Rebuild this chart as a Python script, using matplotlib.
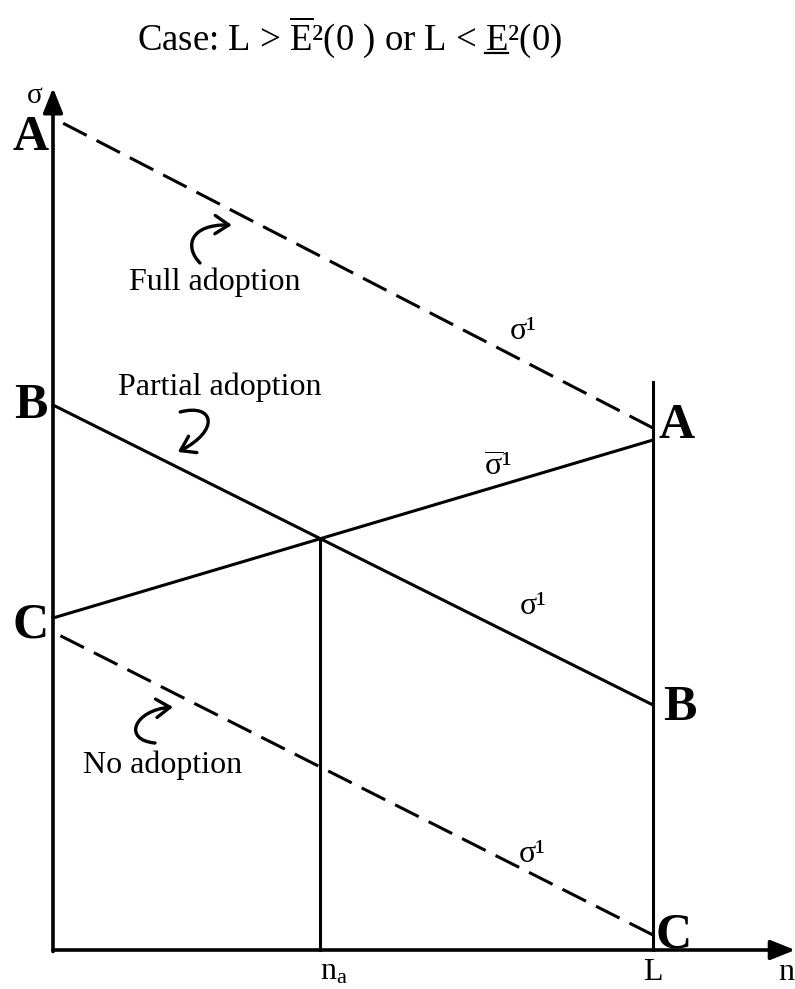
import matplotlib
matplotlib.use('Agg')
import matplotlib.pyplot as plt
from matplotlib.path import Path
from matplotlib.patches import FancyArrowPatch

plt.rcParams['font.family'] = ['Liberation Serif', 'DejaVu Serif']
plt.rcParams['mathtext.fontset'] = 'custom'
plt.rcParams['mathtext.rm'] = 'Liberation Serif'
plt.rcParams['mathtext.it'] = 'Liberation Serif:italic'
plt.rcParams['mathtext.bf'] = 'Liberation Serif:bold'
plt.rcParams['lines.scale_dashes'] = False

# n runs from 0 to L (L = 1); sigma in arbitrary units
n_ends = [0.0, 1.0]
sigma_full = [832, 522]      # A -> A, full adoption (dashed)
sigma_partial = [545, 245]   # B -> B
sigma_rising = [332, 510]    # C -> just under A (sigma bar)
sigma_none = [318, 15]       # C -> C, no adoption (dashed)
L_line_top = 568
sigma_axis_top = 862
n_axis_end = 1.237

left_labels = ['A', 'B', 'C']
left_label_y = [800, 532, 312]
right_labels = ['A', 'B', 'C']
right_label_y = [512, 230, 3]

# crossing point of the two solid lines -> n_a
slope_p = (sigma_partial[1] - sigma_partial[0]) / (n_ends[1] - n_ends[0])
slope_r = (sigma_rising[1] - sigma_rising[0]) / (n_ends[1] - n_ends[0])
n_a = (sigma_rising[0] - sigma_partial[0]) / (slope_p - slope_r)
sigma_a = sigma_partial[0] + slope_p * n_a

fig = plt.figure(figsize=(7.95, 9.89), dpi=100)
ax = fig.add_axes([0, 0, 1, 1])
ax.set_xlim(-53 / 600, 742 / 600)
ax.set_ylim(-39, 950)
ax.axis('off')

lw = 2.2
dash = (19, 8)
# dashed lines drawn from the L side so the pattern meets the vertical line
ax.plot(n_ends[::-1], sigma_full[::-1], color='black', lw=lw, dashes=dash)
ax.plot(n_ends[::-1], sigma_none[::-1], color='black', lw=lw, dashes=dash)
ax.plot(n_ends, sigma_partial, color='black', lw=lw)
ax.plot(n_ends, sigma_rising, color='black', lw=lw)
ax.plot([n_a, n_a], [0, sigma_a], color='black', lw=lw)
ax.plot([n_ends[1], n_ends[1]], [0, L_line_top], color='black', lw=lw)

# axes with arrow heads
head = '-|>,head_length=0.75,head_width=0.3'
ax.annotate('', xy=(0, sigma_axis_top), xytext=(0, -1.5),
            arrowprops=dict(arrowstyle=head, lw=2.6, color='black', mutation_scale=20,
                            shrinkA=0, shrinkB=0))
ax.annotate('', xy=(n_axis_end, 0), xytext=(0, 0),
            arrowprops=dict(arrowstyle=head, lw=2.6, color='black', mutation_scale=20,
                            shrinkA=0, shrinkB=0))

big = dict(fontsize=36, fontweight='bold', family='Liberation Serif',
           ha='center', va='baseline')
for lab, y in zip(left_labels, left_label_y):
    ax.text(-0.037, y, lab, **big)
for lab, y, x in zip(right_labels, right_label_y, [1.04, 1.045, 1.034]):
    ax.text(x, y, lab, **big)

ax.text(-0.03, 847, 'σ', fontsize=21, ha='center', va='baseline')
ax.text(n_a, -30, r'n$_{\mathrm{a}}$', fontsize=23, ha='left', va='baseline')
ax.text(n_ends[1], -30, 'L', fontsize=23, ha='center', va='baseline')
ax.text(1.208, -30, 'n', fontsize=23, ha='left', va='baseline')

lab = dict(fontsize=23, ha='center', va='baseline')
ax.text(0.27, 660, 'Full adoption', **lab)
ax.text(0.278, 555, 'Partial adoption', **lab)
ax.text(0.182, 177, 'No adoption', **lab)

sig = dict(fontsize=23, ha='left', va='baseline')
ax.text(0.762, 611, 'σ¹', **sig)
ax.text(0.718, 474, r'$\overline{\mathrm{σ}}$¹', **sig)
ax.text(0.778, 336, 'σ¹', **sig)
ax.text(0.776, 88, 'σ¹', **sig)

# curved pointers (cubic bezier hooks)
arr = dict(arrowstyle='->,head_length=0.45,head_width=0.3', lw=2.4, color='black',
           mutation_scale=22, shrinkA=0, shrinkB=0)
C4 = [Path.MOVETO, Path.CURVE4, Path.CURVE4, Path.CURVE4]
hooks = [
    [(0.245, 687), (0.22, 702), (0.225, 726), (0.298, 725)],   # full adoption
    [(0.212, 538), (0.268, 547), (0.28, 520), (0.208, 498)],   # partial adoption
    [(0.17, 207), (0.115, 210), (0.135, 240), (0.2, 243)],     # no adoption
]
for pts in hooks:
    ax.add_patch(FancyArrowPatch(path=Path(pts, C4), **arr))

# title with over/underlined E
tx, ty, tfs = 0.14, 900, 26.5
prefix = r'Case: L > $\overline{\mathrm{E}}$²(0 ) or L < '
ax.text(tx, ty, prefix + 'E²(0)', fontsize=tfs, ha='left', va='baseline')
fig.canvas.draw()
rend = fig.canvas.get_renderer()
t1 = ax.text(tx, ty, prefix + r'$\mathrm{E}$', fontsize=tfs, ha='left', va='baseline')
t2 = ax.text(tx, ty, r'$\mathrm{E}$', fontsize=tfs, ha='left', va='baseline')
b1 = t1.get_window_extent(rend)
b2 = t2.get_window_extent(rend)
t1.remove()
t2.remove()
inv = ax.transData.inverted()
x_right = inv.transform((b1.x1, 0))[0]
x_left = inv.transform((b1.x1 - b2.width, 0))[0]
ax.plot([x_left, x_right], [ty - 3, ty - 3], color='black', lw=1.6)

fig.savefig('out.png', dpi=100)
